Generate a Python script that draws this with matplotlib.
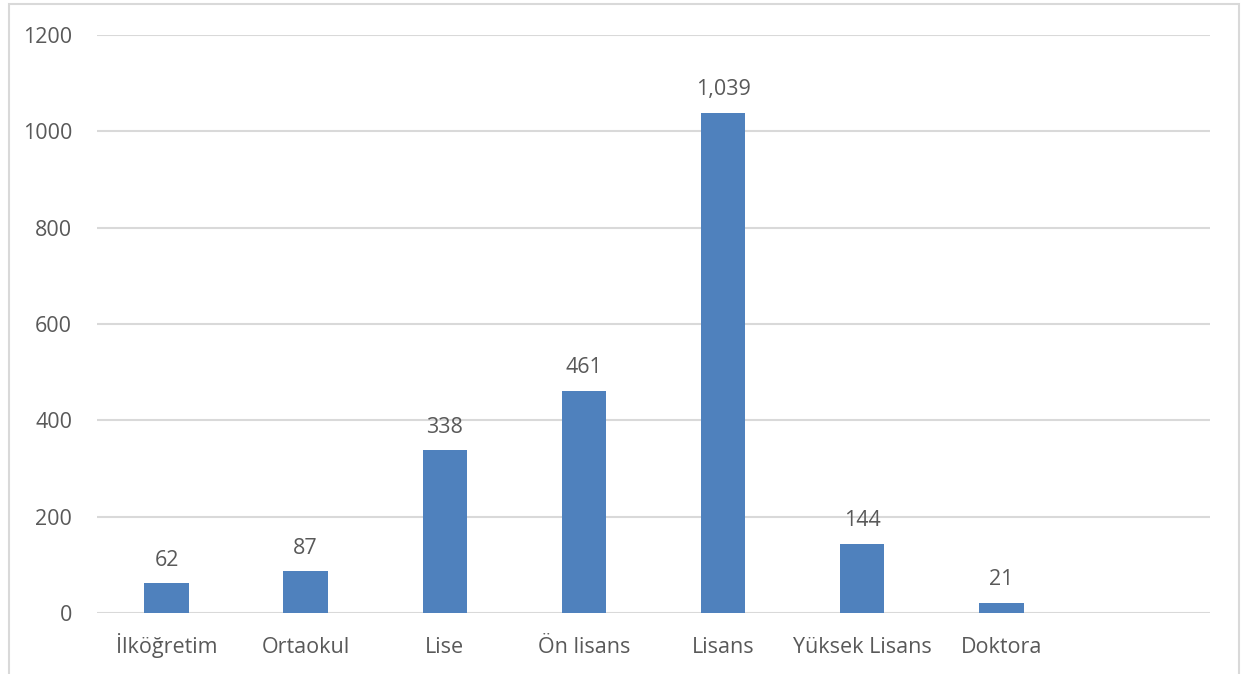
import matplotlib.pyplot as plt
from matplotlib.patches import Rectangle
import numpy as np

# Data
categories = ['İlköğretim', 'Ortaokul', 'Lise', 'Ön lisans', 'Lisans', 'Yüksek Lisans', 'Doktora', '']
counts = [62, 87, 338, 461, 1039, 144, 21, 0]

bar_color = '#4F81BD'
text_color = '#595959'
grid_color = '#D9D9D9'

plt.rcParams['font.family'] = ['Open Sans', 'DejaVu Sans']

fig = plt.figure(figsize=(12.42, 6.74), dpi=100)
ax = fig.add_axes([97 / 1242, 1 - 613 / 674, (1210 - 97) / 1242, (613 - 35) / 674])

x = np.arange(len(categories))
shown = [i for i in range(len(categories)) if categories[i]]
bars = ax.bar([x[i] for i in shown], [counts[i] for i in shown], width=0.32, color=bar_color, zorder=3)

for b in bars:
    h = b.get_height()
    ax.annotate(f'{int(h):,}', (b.get_x() + b.get_width() / 2, h), xytext=(0, 9),
                textcoords='offset points', ha='center', va='bottom', fontsize=15.5, color=text_color)

ax.set_xlim(-0.5, len(categories) - 0.5)
ax.set_ylim(0, 1200)
ax.set_yticks(np.arange(0, 1201, 200))
ax.set_xticks(x)
ax.set_xticklabels(categories, va='baseline')
ax.tick_params(axis='both', length=0, labelsize=15.5, labelcolor=text_color)
ax.tick_params(axis='y', pad=18)
ax.tick_params(axis='x', pad=28.5)
ax.grid(axis='y', color=grid_color, linewidth=1.5, zorder=0)
for s in ax.spines.values():
    s.set_visible(False)

# outer frame of the chart area
fig.patches.append(Rectangle((9 / 1242, -0.02), (1239 - 9) / 1242, 1 - 4 / 674 + 0.02,
                             transform=fig.transFigure, fill=False, edgecolor=grid_color, linewidth=1.5))

fig.savefig('out.png', dpi=100)
